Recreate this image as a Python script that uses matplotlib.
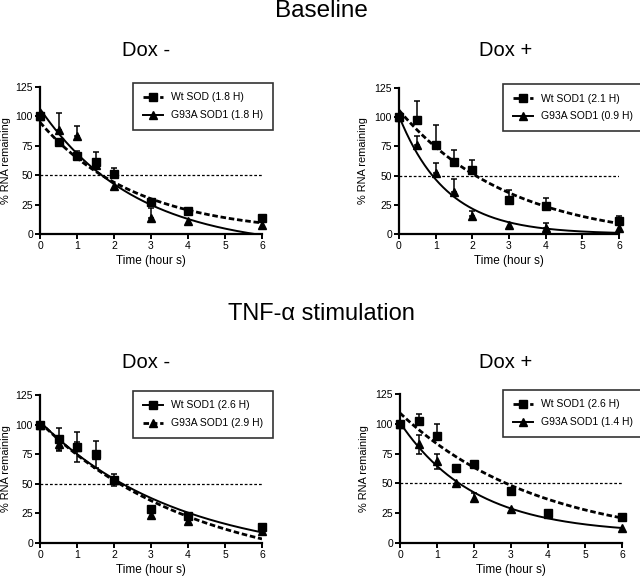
import numpy as np
import matplotlib
matplotlib.use("Agg")
import matplotlib.pyplot as plt
from matplotlib.lines import Line2D

plt.rcParams['font.family'] = ['Liberation Sans', 'DejaVu Sans']

# --- data ---
times = [0, 0.5, 1, 1.5, 2, 3, 4, 6]
HALF_LEVEL = 50

# Baseline, Dox -
base_neg_wt = [100, 78, 66, 61, 51, 27.5, 19.5, 14]
base_neg_wt_err = [0, 0, 5, 8.5, 5, 0, 2.5, 1.5]
base_neg_mut = [100, 88.5, 83.5, 59, 41, 13.5, 11, 8]
base_neg_mut_err = [0, 14, 8.5, 0, 0, 8.5, 0, 0]

# Baseline, Dox +
base_pos_wt = [100, 97.5, 76, 62, 55, 29, 24, 11.5]
base_pos_wt_err = [0, 16, 17.5, 9.5, 8, 9, 7, 4]
base_pos_mut = [100, 76, 52, 36, 15, 8, 5, 5]
base_pos_mut_err = [0, 8, 9, 11, 5, 0, 4, 0]

# TNF-a, Dox -
tnf_neg_wt = [100, 88, 81, 75, 53, 29, 22.5, 13.5]
tnf_neg_wt_err = [0, 9.5, 13, 11.5, 5, 0, 0, 0]
tnf_neg_mut = [100, 84, 81.5, 74, 53, 24, 18.5, 10]
tnf_neg_mut_err = [0, 6, 4, 0, 0, 0, 0, 0]

# TNF-a, Dox +
tnf_pos_wt = [100, 102.5, 90, 63, 66, 43.5, 25.5, 22]
tnf_pos_wt_err = [0, 5.5, 10, 0, 2, 0, 0, 0]
tnf_pos_mut = [100, 83, 68.5, 50.5, 38, 28.5, 24, 12.5]
tnf_pos_mut_err = [0, 8, 6, 0, 4, 0, 0, 0]

# one-phase decay fits: (Y0, plateau, half-life in hours)
base_neg_fit = [(95, 0, 1.8), (106.5, -12.8, 1.8)]
base_pos_fit = [(106, -6.5, 2.1), (101, 0, 0.9)]
tnf_neg_fit = [(102.5, -14.7, 2.6), (102, -27.4, 2.9)]
tnf_pos_fit = [(109, -1.3, 2.6), (101, 7.8, 1.4)]

base_neg_labels = ['Wt SOD (1.8 H)', 'G93A SOD1 (1.8 H)']
base_pos_labels = ['Wt SOD1 (2.1 H)', 'G93A SOD1 (0.9 H)']
tnf_neg_labels = ['Wt SOD1 (2.6 H)', 'G93A SOD1 (2.9 H)']
tnf_pos_labels = ['Wt SOD1 (2.6 H)', 'G93A SOD1 (1.4 H)']

# line style per series (wt, mut) and error bar direction
base_neg_styles = ['dashed', 'solid']
base_pos_styles = ['dashed', 'solid']
tnf_neg_styles = ['solid', 'dashed']
tnf_pos_styles = ['dashed', 'solid']
base_neg_dirs = ['up', 'up']
base_pos_dirs = ['up', 'up']
tnf_neg_dirs = ['both', 'both']
tnf_pos_dirs = ['up', 'both']

# --- figure ---
W, H = 640, 580
fig = plt.figure(figsize=(6.4, 5.8), dpi=100)


def px_axes(x0, x1, ytop, ybot):
    return fig.add_axes([x0 / W, 1 - ybot / H, (x1 - x0) / W, (ybot - ytop) / H])


def line_kw(style):
    if style == 'dashed':
        return dict(linestyle=(0, (2.0, 1.0)), lw=2.0)
    return dict(linestyle='-', lw=1.4)


def draw_panel(ax, wt, wt_err, mut, mut_err, fits, labels, styles, dirs, leg_x, ylab_x):
    t = np.array(times)
    tt = np.linspace(0, 6, 300)
    markers = ['s', '^']
    handles = []
    for i, (y, e) in enumerate([(wt, wt_err), (mut, mut_err)]):
        y = np.array(y, dtype=float)
        e = np.array(e, dtype=float)
        lo = e if dirs[i] == 'both' else np.zeros_like(e)
        keep = e > 0
        ax.errorbar(t[keep], y[keep], yerr=[lo[keep], e[keep]], fmt='none',
                    ecolor='black', elinewidth=1.1, capsize=2.4, capthick=1.1,
                    clip_on=False, zorder=3)
        ax.plot(t, y, linestyle='none', marker=markers[i], ms=6.2,
                color='black', clip_on=False, zorder=4)
        y0, plat, hl = fits[i]
        k = np.log(2) / hl
        curve = plat + (y0 - plat) * np.exp(-k * tt)
        ax.plot(tt, curve, color='black', zorder=2, **line_kw(styles[i]))
        handles.append(Line2D([], [], color='black', marker=markers[i], ms=5.5,
                              **line_kw(styles[i])))

    ax.axhline(HALF_LEVEL, color='black', lw=0.9, linestyle=(0, (2.2, 1.6)), zorder=1)

    ax.set_xlim(0, 6)
    ax.set_ylim(0, 125)
    ax.set_xticks(range(0, 7))
    ax.set_yticks([0, 25, 50, 75, 100, 125])
    for s in ['top', 'right']:
        ax.spines[s].set_visible(False)
    for s in ['left', 'bottom']:
        ax.spines[s].set_linewidth(1.6)
    ax.tick_params(direction='out', length=3.5, width=1.4, labelsize=7.5, pad=1.5,
                   colors='black')
    ax.set_xlabel('Time (hour s)', fontsize=8.5, labelpad=3)
    ax.set_ylabel('% RNA remaining', fontsize=7.9)
    ax.yaxis.set_label_coords(ylab_x, 0.5)

    leg = ax.legend(handles, labels, loc='upper left', bbox_to_anchor=(leg_x, 1.03),
                    fontsize=7.5, frameon=True, fancybox=False, edgecolor='black',
                    handlelength=1.9, borderpad=0.95, labelspacing=0.75,
                    handletextpad=0.75, borderaxespad=0)
    leg.get_frame().set_linewidth(1.2)


ax_tl = px_axes(40, 262, 87, 234)
ax_tr = px_axes(399, 619, 88, 234)
ax_bl = px_axes(40, 262, 395, 543)
ax_br = px_axes(400, 622, 394, 543)

draw_panel(ax_tl, base_neg_wt, base_neg_wt_err, base_neg_mut, base_neg_mut_err,
           base_neg_fit, base_neg_labels, base_neg_styles, base_neg_dirs, 0.42, -0.13)
draw_panel(ax_tr, base_pos_wt, base_pos_wt_err, base_pos_mut, base_pos_mut_err,
           base_pos_fit, base_pos_labels, base_pos_styles, base_pos_dirs, 0.473, -0.14)
draw_panel(ax_bl, tnf_neg_wt, tnf_neg_wt_err, tnf_neg_mut, tnf_neg_mut_err,
           tnf_neg_fit, tnf_neg_labels, tnf_neg_styles, tnf_neg_dirs, 0.42, -0.13)
draw_panel(ax_br, tnf_pos_wt, tnf_pos_wt_err, tnf_pos_mut, tnf_pos_mut_err,
           tnf_pos_fit, tnf_pos_labels, tnf_pos_styles, tnf_pos_dirs, 0.465, -0.14)

# section and panel titles
fig.text(321 / W, 1 - 11 / H, 'Baseline', ha='center', va='center', fontsize=17.5)
fig.text(146 / W, 1 - 51 / H, 'Dox -', ha='center', va='center', fontsize=14.5)
fig.text(506 / W, 1 - 51 / H, 'Dox +', ha='center', va='center', fontsize=14.5)
fig.text(321 / W, 1 - 314 / H, 'TNF-\u03b1 stimulation', ha='center', va='center', fontsize=17)
fig.text(146 / W, 1 - 363 / H, 'Dox -', ha='center', va='center', fontsize=14.5)
fig.text(506 / W, 1 - 363 / H, 'Dox +', ha='center', va='center', fontsize=14.5)

fig.savefig('out.png', dpi=100, facecolor='white')
